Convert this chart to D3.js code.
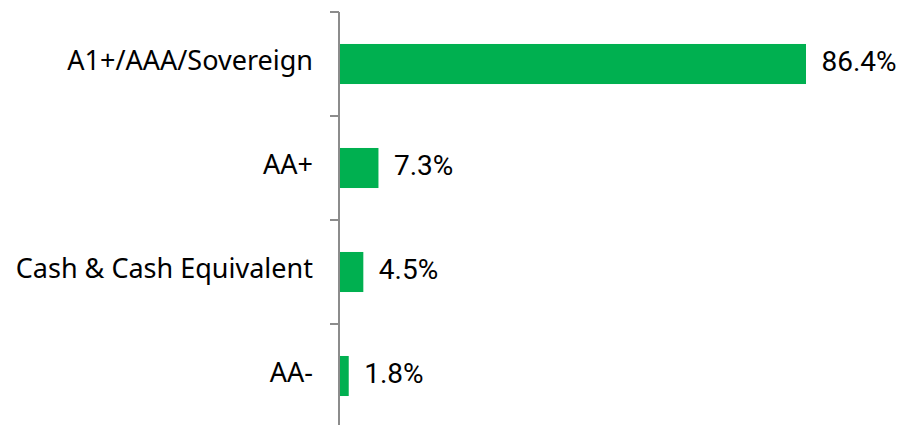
<!DOCTYPE html>
<html>
<head>
<meta charset="utf-8">
<script src="https://cdn.jsdelivr.net/npm/d3@7"></script>
<style>
  body { margin: 0; background: #fff; }
  .axis path, .axis line { stroke: #8c8c8c; stroke-width: 2; }
</style>
</head>
<body>
<svg width="901" height="425"></svg>
<script>
// rating breakdown, %
var categories = ["A1+/AAA/Sovereign", "AA+", "Cash & Cash Equivalent", "AA-"];
var values = [86.4, 7.3, 4.5, 1.8];
var labels = ["86.4%", "7.3%", "4.5%", "1.8%"];

var svg = d3.select("svg");

var data = categories.map(function(c, i) {
  return {name: c, value: values[i], label: labels[i]};
});

var xScale = d3.scaleLinear().domain([0, 86.4]).range([339, 806]);
var yScale = d3.scaleBand().domain(categories).range([12, 428]).paddingInner(0.615).paddingOuter(0.3075);

// axis with ticks between categories
var step = yScale.step();
var y0 = 12;
var g = svg.append("g").attr("class", "axis");
g.append("line")
  .attr("x1", 339).attr("x2", 339)
  .attr("y1", y0).attr("y2", 428);
g.selectAll("line.tick")
  .data(d3.range(categories.length + 1))
  .enter()
  .append("line")
  .attr("class", "tick")
  .attr("x1", 330).attr("x2", 339)
  .attr("y1", function(i) { return y0 + i * step; })
  .attr("y2", function(i) { return y0 + i * step; });

svg.selectAll("rect.bar")
  .data(data)
  .enter()
  .append("rect")
  .attr("class", "bar")
  .attr("x", xScale(0) + 1)
  .attr("y", function(d) { return yScale(d.name); })
  .attr("width", function(d) { return xScale(d.value) - xScale(0) - 1; })
  .attr("height", yScale.bandwidth())
  .style("fill", "#00b050");

svg.selectAll("text.cat")
  .data(data)
  .enter()
  .append("text")
  .attr("class", "cat")
  .attr("x", 313)
  .attr("y", function(d) { return yScale(d.name) + yScale.bandwidth() / 2 - 3.5; })
  .attr("dy", "0.35em")
  .attr("text-anchor", "end")
  .style("font-family", "'Noto Sans', sans-serif")
  .style("font-size", "27px")
  .style("fill", "#000")
  .text(function(d) { return d.name; });

svg.selectAll("text.val")
  .data(data)
  .enter()
  .append("text")
  .attr("class", "val")
  .attr("x", function(d) { return xScale(d.value) + 15.5; })
  .attr("y", function(d) { return yScale(d.name) + yScale.bandwidth() / 2 - 3; })
  .attr("dy", "0.35em")
  .style("font-family", "Roboto, sans-serif")
  .style("font-size", "28px")
  .style("fill", "#000")
  .text(function(d) { return d.label; });
</script>
</body>
</html>
